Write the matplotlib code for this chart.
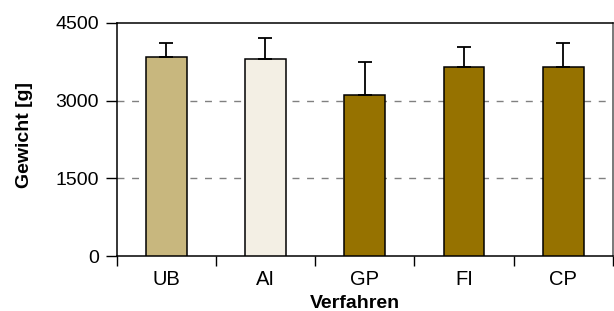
import matplotlib
matplotlib.use("Agg")
import matplotlib.pyplot as plt
import numpy as np

categories = ["UB", "AI", "GP", "FI", "CP"]
means = [3840, 3807, 3108, 3641, 3641]
errors = [265, 405, 636, 397, 469]
colors = ["#C8B77E", "#F3EFE4", "#967200", "#967200", "#967200"]
yticks = [0, 1500, 3000, 4500]

plt.rcParams['font.family'] = ['Liberation Sans', 'DejaVu Sans']

W, H = 614, 311
L, R, T, B = 116.5, 613, 22.7, 256.3
fig = plt.figure(figsize=(W/100, H/100), dpi=100)
ax = fig.add_axes([L/W, 1-B/H, (R-L)/W, (B-T)/H])

x = np.arange(len(categories))
ax.bar(x, means, width=0.41, color=colors, edgecolor="black", linewidth=1.1, zorder=3,
       yerr=[np.zeros(len(errors)), errors],
       error_kw=dict(ecolor="black", elinewidth=1.3, capsize=5.3, capthick=1.3, zorder=4))

ax.set_xlim(-0.5, len(categories)-0.5)
ax.set_ylim(0, 4500)
ax.set_yticks(yticks)
ax.set_yticklabels([str(v) for v in yticks], fontsize=14)
for v in [1500, 3000]:
    ax.axhline(v, color="#808080", linestyle=(0, (5, 5.5)), linewidth=1.0, zorder=1)

ax.set_xticks(np.arange(-0.5, len(categories)), minor=False)
ax.set_xticklabels([])
ax.set_xticks(x, minor=True)
ax.set_xticklabels(categories, minor=True, fontsize=14.5)
ax.tick_params(axis="x", which="minor", length=0, pad=10)
ax.tick_params(axis="x", which="major", length=7, width=1.0, direction="out")
ax.tick_params(axis="y", length=8, width=1.0, direction="out", pad=4.5)

for s in ax.spines.values():
    s.set_linewidth(1.1)
    s.set_color("black")
ax.spines["right"].set_color("#555555")

ax.set_xlabel("Verfahren", fontsize=14, fontweight="bold")
ax.xaxis.set_label_coords((355-L)/(R-L), -(295-B)/(B-T))
ax.set_ylabel("Gewicht [g]", fontsize=14, fontweight="bold")
ax.yaxis.set_label_coords(-(L-33)/(R-L), (B-135)/(B-T))

fig.savefig("out.png", dpi=100)
